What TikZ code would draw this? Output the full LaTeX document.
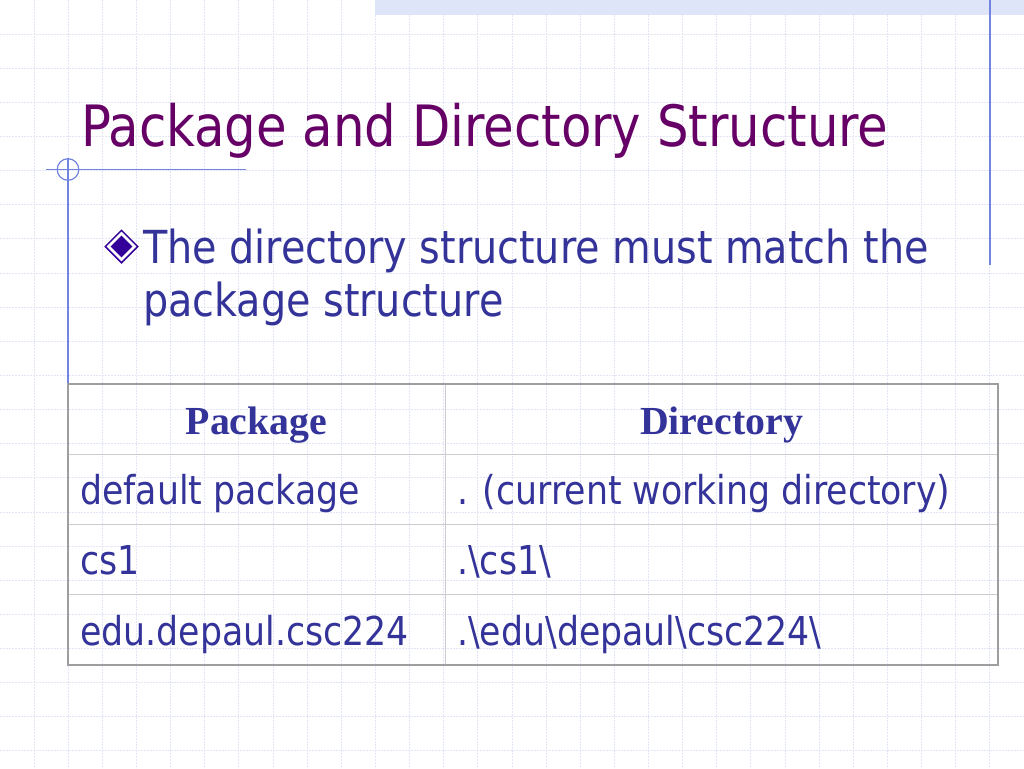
\documentclass[tikz,border=0pt]{standalone}
\usepackage{fontspec}
\setmainfont[FakeStretch=0.97]{DejaVu Sans Condensed}
\newfontfamily\headfont{Liberation Serif}
\usetikzlibrary{shapes.geometric}
\definecolor{titlec}{HTML}{660066}
\definecolor{textc}{HTML}{333399}
\definecolor{bulc}{HTML}{330099}
\definecolor{gridc}{HTML}{E2E5F6}
\definecolor{bandc}{HTML}{DFE5F8}
\definecolor{decoc}{HTML}{7384E0}

\begin{document}
\begin{tikzpicture}[x=1pt,y=-1pt]
	\tikzset{gridline/.style = {gridc, line width=1pt, dash pattern=on 2pt off 1pt},
	deco/.style = {decoc, line width=1.2pt},
	bodytxt/.style = {textc, inner sep=0, anchor=base west, font=\fontsize{45.5}{54}\selectfont},
	celltxt/.style = {textc, inner sep=0, anchor=base west, font=\fontsize{39.8}{48}\selectfont},
	headtxt/.style = {textc, inner sep=0, anchor=base, font=\headfont\bfseries\fontsize{39.8}{48}\selectfont},
	tabinner/.style = {black!20, line width=1pt},
	tabouter/.style = {black!38, line width=1.5pt}}
	\useasboundingbox (0,0) rectangle (1024,768);
	\fill[white] (0,0) rectangle (1024,768);
	% background grid
	\foreach \i in {1,...,29}
		\draw[gridline] (\i*34.133,0) -- (\i*34.133,768);
	\foreach \j in {1,...,22}
		\draw[gridline] (0,\j*34.133) -- (1024,\j*34.133);
	\fill[bandc] (375,0) rectangle (1024,15);
	% frame lines
	\draw[deco] (46,169.5) -- (246,169.5);
	\draw[deco] (68,158) -- (68,384);
	\draw[deco] (68,169.5) circle (10.8pt);
	\draw[deco] (990,0) -- (990,265);
	% title and bullet
	\node[titlec, inner sep=0, anchor=base west, font=\fontsize{57}{68}\selectfont] (title) at (81,146) {Package and Directory Structure};
	\node[diamond, draw=bulc, line width=1.5pt, fill=white, minimum size=33pt, inner sep=0] (bul) at (121.5,246.5) {};
	\node[diamond, fill=bulc, minimum size=22pt, inner sep=0] (buldot) at (bul) {};
	\node[bodytxt] (line1) at (143,263) {The directory structure must match the};
	\node[bodytxt] (line2) at (143,316) {package structure};
	% table
	\draw[tabinner] (445,384) -- (445,665);
	\foreach \y in {454,524,594}
		\draw[tabinner] (68,\y) -- (998,\y);
	\draw[tabouter] (68,384) rectangle (998,665);
	\node[headtxt] (hpkg) at (256.5,434) {Package};
	\node[headtxt] (hdir) at (721.5,434) {Directory};
	\node[celltxt] (pkga) at (80,504) {default package};
	\node[celltxt] (dira) at (457,504) {. (current working directory)};
	\node[celltxt] (pkgb) at (80,574) {cs1};
	\node[celltxt] (dirb) at (457,574) {.\textbackslash cs1\textbackslash};
	\node[celltxt] (pkgc) at (80,645) {edu.depaul.csc224};
	\node[celltxt] (dirc) at (457,645) {.\textbackslash edu\textbackslash depaul\textbackslash csc224\textbackslash};
\end{tikzpicture}
\end{document}
